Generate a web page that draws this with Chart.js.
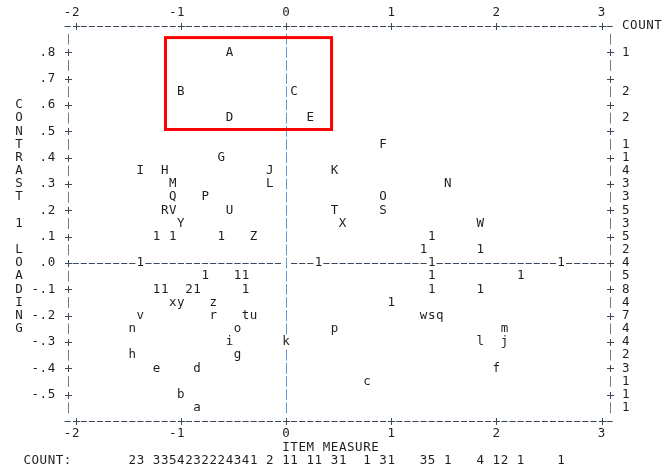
<!DOCTYPE html>
<html><head><meta charset="utf-8">
<script src="https://cdn.jsdelivr.net/npm/chart.js@4/dist/chart.umd.min.js"></script>
<style>html,body{margin:0;padding:0;background:#fff;}canvas{display:block;}</style>
</head><body>
<canvas id="c" width="672" height="470"></canvas>
<script>
// Item plot characters (letters = items, digits = counts of coincident items)
const itemLabels = [
  'A',
  'B','C',
  'D','E',
  'F',
  'G',
  'I','H','J','K',
  'M','L','N',
  'Q','P','O',
  'R','V','U','T','S',
  'Y','X','W',
  '1','1','1','Z','1',
  '1','1',
  '1','1','1','1',
  '1','1','1','1','1',
  '1','1','2','1','1','1','1',
  'x','y','z','1',
  'v','r','t','u','w','s','q',
  'n','o','p','m',
  'i','k','l','j',
  'h','g',
  'e','d','f',
  'c',
  'b',
  'a'
];
const itemMeasures = [
  -0.538,
  -1.000, 0.077,
  -0.538, 0.231,
  0.923,
  -0.615,
  -1.385,-1.154,-0.154, 0.462,
  -1.077,-0.154, 1.538,
  -1.077,-0.769, 0.923,
  -1.154,-1.077,-0.538, 0.462, 0.923,
  -1.000, 0.538, 1.846,
  -1.231,-1.077,-0.615,-0.308, 1.385,
  1.308, 1.846,
  -1.385, 0.308, 1.385, 2.615,
  -0.769,-0.462,-0.385, 1.385, 2.231,
  -1.231,-1.154,-0.923,-0.846,-0.385, 1.385, 1.846,
  -1.077,-1.000,-0.692, 1.000,
  -1.385,-0.692,-0.385,-0.308, 1.308, 1.385, 1.462,
  -1.462,-0.462, 0.462, 2.077,
  -0.538, 0.000, 1.846, 2.077,
  -1.462,-0.462,
  -1.231,-0.846, 2.000,
  0.769,
  -1.000,
  -0.846
];
const itemLoadings = [
  0.80,
  0.65,0.65,
  0.55,0.55,
  0.45,
  0.40,
  0.35,0.35,0.35,0.35,
  0.30,0.30,0.30,
  0.25,0.25,0.25,
  0.20,0.20,0.20,0.20,0.20,
  0.15,0.15,0.15,
  0.10,0.10,0.10,0.10,0.10,
  0.05,0.05,
  0.00,0.00,0.00,0.00,
  -0.05,-0.05,-0.05,-0.05,-0.05,
  -0.10,-0.10,-0.10,-0.10,-0.10,-0.10,-0.10,
  -0.15,-0.15,-0.15,-0.15,
  -0.20,-0.20,-0.20,-0.20,-0.20,-0.20,-0.20,
  -0.25,-0.25,-0.25,-0.25,
  -0.30,-0.30,-0.30,-0.30,
  -0.35,-0.35,
  -0.40,-0.40,-0.40,
  -0.45,
  -0.50,
  -0.55
];
// Right-hand COUNT column (items per row)
const rowLoadings = [0.80,0.65,0.55,0.45,0.40,0.35,0.30,0.25,0.20,0.15,0.10,0.05,0.00,-0.05,-0.10,-0.15,-0.20,-0.25,-0.30,-0.35,-0.40,-0.45,-0.50,-0.55];
const rowCounts   = [1,2,2,1,1,4,3,3,5,3,5,2,4,5,8,4,7,4,4,2,3,1,1,1];
// Bottom COUNT line (items per column)
const colMeasures = [-1.462,-1.385,-1.231,-1.154,-1.077,-1.000,-0.923,-0.846,-0.769,-0.692,-0.615,-0.538,-0.462,-0.385,-0.308,-0.154,0.000,0.077,0.231,0.308,0.462,0.538,0.769,0.923,1.000,1.308,1.385,1.538,1.846,2.000,2.077,2.231,2.615];
const colCounts   = [2,3,3,3,5,4,2,3,2,2,2,4,3,4,1,2,1,1,1,1,3,1,1,3,1,3,5,1,4,1,2,1,1];
// Ticks and titles
const xTickValues = [-2,-1,0,1,2,3];
const xTickLabels = ['-2','-1','0','1','2','3'];
const yTickValues = [0.8,0.7,0.6,0.5,0.4,0.3,0.2,0.1,0.0,-0.1,-0.2,-0.3,-0.4,-0.5];
const yTickLabels = ['.8','.7','.6','.5','.4','.3','.2','.1','.0','-.1','-.2','-.3','-.4','-.5'];
const xTitle = 'ITEM MEASURE';
const yTitle = 'CONTRAST 1 LOADING';
const rowCountTitle = 'COUNT';
const colCountTitle = 'COUNT:';
const highlightBox = {x0:-1.146, x1:0.433, y0:0.507, y1:0.856};

const CPU = 13;          // character columns per logit
const ROW = 0.05;        // loading per text row
const FONT = '12.5px "DejaVu Sans Mono", "Liberation Mono", monospace';
const TEXT = '#1e1e1e', FRAME = '#3a4859', BAR = '#6a7b92', BLUE = '#5b9bd5';

const textPlot = {
  id:'textPlot',
  afterDraw(chart){
    const ctx = chart.ctx, xs = chart.scales.x, ys = chart.scales.y;
    const cx = k => xs.getPixelForValue(k / CPU);
    const ry = j => ys.getPixelForValue(j * ROW);
    const occupied = new Set(itemMeasures.map((m,i)=>Math.round(m*CPU)+','+Math.round(itemLoadings[i]/ROW)));
    ctx.save();
    ctx.font = FONT; ctx.textAlign='center'; ctx.textBaseline='middle';
    const str = (s,k,j,col) => { ctx.fillStyle = col||TEXT; for (let i=0;i<s.length;i++){ if (s[i]!==' ') ctx.fillText(s[i], cx(k+i), ry(j)); } };
    const dash = (k,j) => { const x=cx(k), y=Math.round(ry(j))+0.5; ctx.strokeStyle=FRAME; ctx.lineWidth=1; ctx.beginPath(); ctx.moveTo(x-3.1,y); ctx.lineTo(x+3.1,y); ctx.stroke(); };
    const plus = (k,j) => { const x=Math.round(cx(k))+0.5, y=Math.round(ry(j))+0.5; ctx.strokeStyle=FRAME; ctx.lineWidth=1; ctx.beginPath(); ctx.moveTo(x-3.5,y); ctx.lineTo(x+3.5,y); ctx.moveTo(x,y-3.5); ctx.lineTo(x,y+3.5); ctx.stroke(); };
    const bar = (k,j,col) => { const x=Math.round(cx(k))+0.5, y=ry(j); ctx.strokeStyle=col; ctx.lineWidth=1; ctx.beginPath(); ctx.moveTo(x,y-5.4); ctx.lineTo(x,y+5.4); ctx.stroke(); };
    const kL = Math.round(xs.min*CPU), kR = Math.round(xs.max*CPU);
    const jT = Math.round(ys.max/ROW), jB = Math.round(ys.min/ROW);
    const tickCols = xTickValues.map(v=>Math.round(v*CPU));
    // top & bottom frame lines
    [jT,jB].forEach(j=>{ for(let k=kL;k<=kR;k++){ if (tickCols.includes(k)) plus(k,j); else dash(k,j);} });
    // zero line
    for (let k=kL+1;k<kR;k++){ if (k===0 || occupied.has(k+',0')) continue; dash(k,0); }
    // side borders and centre line
    for (let j=jT-1;j>jB;j--){
      [kL,kR].forEach(k=>{ if (j%2===0) plus(k,j); else bar(k,j,BAR); });
      if (!occupied.has('0,'+j)) bar(0,j,BLUE);
    }
    // axis tick labels
    xTickValues.forEach((v,i)=>{ const s=xTickLabels[i], k=Math.round(v*CPU)-(s.length-1); str(s,k,jT+1); str(s,k,jB-1); });
    yTickValues.forEach((v,i)=>{ const s=yTickLabels[i]; str(s,kL-2-(s.length-1),Math.round(v/ROW)); });
    // titles
    str(xTitle,0,jB-2);
    for (let i=0;i<yTitle.length;i++) str(yTitle[i],kL-6,12-i);
    str(rowCountTitle,kR+2,jT);
    str(colCountTitle,kL-5,jB-3);
    // counts
    rowLoadings.forEach((v,i)=>str(String(rowCounts[i]),kR+2,Math.round(v/ROW)));
    colMeasures.forEach((v,i)=>str(String(colCounts[i]),Math.round(v*CPU),jB-3));
    // item characters
    const meta = chart.getDatasetMeta(0);
    ctx.fillStyle = TEXT;
    meta.data.forEach((pt,i)=>ctx.fillText(itemLabels[i], pt.x, pt.y));
    // highlight box
    ctx.strokeStyle='#ff0000'; ctx.lineWidth=3;
    const bx0=xs.getPixelForValue(highlightBox.x0), bx1=xs.getPixelForValue(highlightBox.x1);
    const by0=ys.getPixelForValue(highlightBox.y1), by1=ys.getPixelForValue(highlightBox.y0);
    ctx.strokeRect(bx0,by0,bx1-bx0,by1-by0);
    ctx.restore();
  }
};

new Chart(document.getElementById('c'), {
  type:'scatter',
  data:{ datasets:[{ data:itemMeasures.map((x,i)=>({x, y:itemLoadings[i]})), pointRadius:0, pointHoverRadius:0 }] },
  options:{
    responsive:false, animation:false, devicePixelRatio:1,
    layout:{ padding:{ left:67.6, right:62.4, top:26, bottom:49 } },
    scales:{
      x:{ type:'linear', min:-27/CPU, max:40/CPU, display:false },
      y:{ type:'linear', min:-0.6, max:0.9, display:false }
    },
    plugins:{ legend:{display:false}, tooltip:{enabled:false} }
  },
  plugins:[textPlot]
});
</script>
</body></html>
